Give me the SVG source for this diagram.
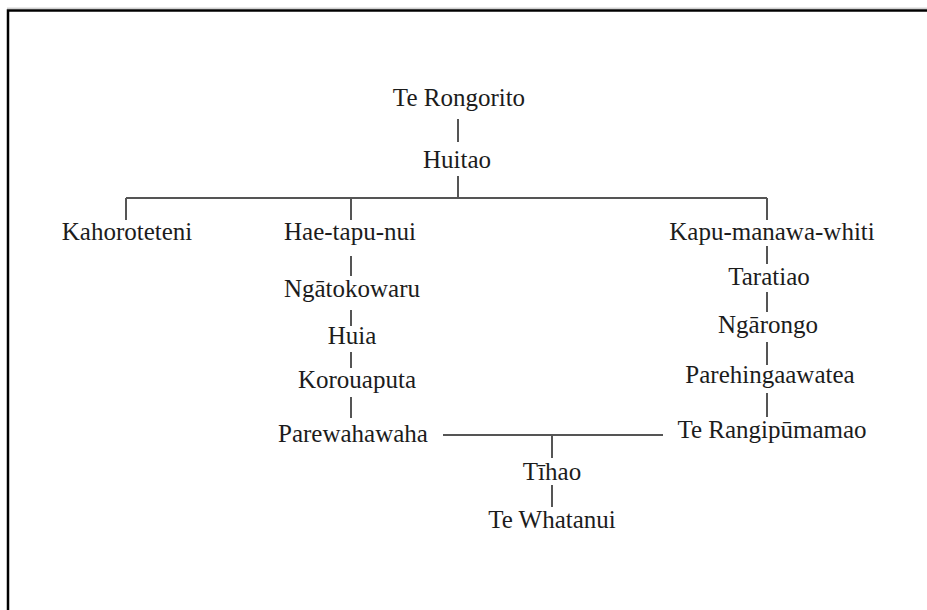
<svg xmlns="http://www.w3.org/2000/svg" width="927" height="610" viewBox="0 0 927 610">
  <style>
    .name { font-family: "Liberation Serif", "Times New Roman", serif; font-size: 25px; fill: #1c1c1c; text-anchor: middle; }
    .link { stroke: #555; stroke-width: 2; fill: none; }
    .frame { stroke: #000; stroke-width: 2.5; fill: none; }
  </style>
  <rect width="927" height="610" fill="#fff"/>

  <!-- page frame, open to the right and bottom -->
  <g id="frame">
    <line x1="7" y1="8.2" x2="927" y2="8.2" stroke="#bbb" stroke-width="1"/>
    <polyline class="frame" points="8,610 8,10.5 927,10.5"/>
  </g>

  <!-- lines of descent -->
  <g id="connectors">
    <line class="link" x1="458" y1="119" x2="458" y2="142"/>
    <line class="link" x1="458" y1="176" x2="458" y2="198"/>
    <line class="link" x1="126" y1="198" x2="767" y2="198"/>
    <line class="link" x1="126" y1="198" x2="126" y2="220"/>
    <line class="link" x1="351" y1="198" x2="351" y2="220"/>
    <line class="link" x1="767" y1="198" x2="767" y2="220"/>
    <!-- Hae-tapu-nui line -->
    <line class="link" x1="351" y1="256" x2="351" y2="276"/>
    <line class="link" x1="351" y1="310" x2="351" y2="326"/>
    <line class="link" x1="351" y1="352" x2="351" y2="368"/>
    <line class="link" x1="351" y1="397" x2="351" y2="418"/>
    <!-- Kapu-manawa-whiti line -->
    <line class="link" x1="767" y1="246" x2="767" y2="264"/>
    <line class="link" x1="767" y1="292" x2="767" y2="312"/>
    <line class="link" x1="767" y1="342" x2="767" y2="365"/>
    <line class="link" x1="767" y1="393" x2="767" y2="417"/>
    <!-- union of Parewahawaha and Te Rangipūmamao -->
    <line class="link" x1="443" y1="435" x2="663" y2="435"/>
    <line class="link" x1="552" y1="435" x2="552" y2="458"/>
    <line class="link" x1="552" y1="485" x2="552" y2="507"/>
  </g>

  <g id="te-rongorito"><text class="name" x="459" y="106">Te Rongorito</text></g>
  <g id="huitao"><text class="name" x="457" y="168">Huitao</text></g>
  <g id="kahoroteteni"><text class="name" x="127" y="240">Kahoroteteni</text></g>
  <g id="hae-tapu-nui"><text class="name" x="350" y="240">Hae-tapu-nui</text></g>
  <g id="ngatokowaru"><text class="name" x="352" y="297">Ngātokowaru</text></g>
  <g id="huia"><text class="name" x="352" y="344">Huia</text></g>
  <g id="korouaputa"><text class="name" x="357" y="388">Korouaputa</text></g>
  <g id="parewahawaha"><text class="name" x="353" y="442">Parewahawaha</text></g>
  <g id="kapu-manawa-whiti"><text class="name" x="772" y="240">Kapu-manawa-whiti</text></g>
  <g id="taratiao"><text class="name" x="769" y="285">Taratiao</text></g>
  <g id="ngarongo"><text class="name" x="768" y="333">Ngārongo</text></g>
  <g id="parehingaawatea"><text class="name" x="770" y="383">Parehingaawatea</text></g>
  <g id="te-rangipumamao"><text class="name" x="772" y="438">Te Rangipūmamao</text></g>
  <g id="tihao"><text class="name" x="552" y="480">Tīhao</text></g>
  <g id="te-whatanui"><text class="name" x="552" y="528">Te Whatanui</text></g>
</svg>
